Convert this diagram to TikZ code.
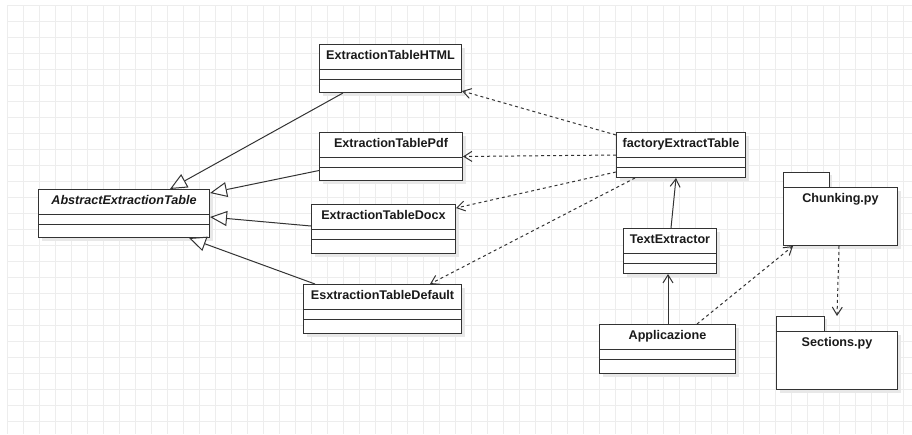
\documentclass[tikz,border=0pt]{standalone}
\usepackage{fontspec}
\setmainfont{Liberation Sans}
\usetikzlibrary{arrows.meta,shadows}

\definecolor{umlline}{HTML}{333333}
\definecolor{umltext}{HTML}{1A1A1A}
\definecolor{gridgray}{HTML}{EDEDED}
\definecolor{shadowgray}{HTML}{E8E8E8}

\tikzset{
  gridline/.style={draw=gridgray, line width=0.9pt},
  umlshadow/.style={drop shadow={shadow xshift=3pt, shadow yshift=-3pt, fill=shadowgray, opacity=1}},
  classbox/.style={draw=umlline, fill=white, line width=1pt, inner sep=0pt, umlshadow},
  classline/.style={draw=umlline, line width=1pt},
  classname/.style={text=umltext, font=\bfseries\fontsize{12.6}{14}\selectfont, inner sep=0pt, text height=9pt, text depth=2.5pt},
  inherit/.style={draw=umlline, line width=1pt, -{Triangle[fill=white, length=17pt, width=15pt]}},
  uses/.style={draw=umlline, line width=1pt, dash pattern=on 3pt off 3pt, -{Straight Barb[length=8pt, width=10pt]}},
  assoc/.style={draw=umlline, line width=1pt, -{Straight Barb[length=8pt, width=10pt]}}
}

% name, left, top, width, height, label
\newcommand{\umlclass}[6]{%
  \node[classbox, minimum width=#4pt, minimum height=#5pt, anchor=north west] (#1) at (#2,#3) {};
  \node[classname] (#1-name) at ([yshift=-12.5pt]#1.north) {#6};
  \draw[classline] ([yshift=-25pt]#1.north west) -- ([yshift=-25pt]#1.north east);
  \draw[classline] ([yshift=-35.5pt]#1.north west) -- ([yshift=-35.5pt]#1.north east);
}
% name, left, top, width, height, tab width, label
\newcommand{\umlpackage}[7]{%
  \draw[classbox] (#2,{#3-15}) rectangle ({#2+#6},#3);
  \node[classbox, minimum width=#4pt, minimum height=#5pt, anchor=north west] (#1) at (#2,#3) {};
  \node[classname] (#1-name) at ([yshift=-12pt]#1.north) {#7};
}

\begin{document}
\begin{tikzpicture}[x=1pt, y=-1pt]
  \useasboundingbox (0,0) rectangle (912,434);

  % grid
  \foreach \gx in {0,...,56} \draw[gridline] ({7.3+16*\gx},5) -- ({7.3+16*\gx},434);
  \foreach \gy in {0,...,26} \draw[gridline] (7.3,{5+16*\gy}) -- (912,{5+16*\gy});

  % classes
  \umlclass{abs}{38}{189}{171}{48}{\itshape AbstractExtractionTable}
  \umlclass{html}{319}{44}{142}{48}{ExtractionTableHTML}
  \umlclass{pdf}{319}{132}{143}{48}{ExtractionTablePdf}
  \umlclass{docx}{311}{204}{144}{49}{ExtractionTableDocx}
  \umlclass{tdefault}{303}{284}{158}{49}{EsxtractionTableDefault}
  \umlclass{factory}{616}{132}{129}{45}{factoryExtractTable}
  \umlclass{textx}{623}{228}{93}{45}{TextExtractor}
  \umlclass{app}{599}{324}{136}{49}{Applicazione}

  % packages
  \umlpackage{chunk}{783}{187}{114}{58}{46}{Chunking.py}
  \umlpackage{sect}{776}{331}{121}{58}{48}{Sections.py}

  % generalisations
  \draw[inherit] ([xshift=24pt]html.south west) -- ([xshift=132pt]abs.north west);
  \draw[inherit] ([yshift=-14pt]pdf.west) -- ([yshift=-4pt]abs.north east);
  \draw[inherit] ([yshift=3pt]docx.west) -- ([yshift=-28pt]abs.north east);
  \draw[inherit] ([xshift=12pt]tdefault.north west) -- ([xshift=151pt]abs.south west);

  % dependencies
  \draw[uses] ([yshift=-3pt]factory.north west) -- ([yshift=2pt]html.south east);
  \draw[uses] (factory.west) -- (pdf.east);
  \draw[uses] ([yshift=6pt]factory.south west) -- ([yshift=-4pt]docx.north east);
  \draw[uses] ([xshift=19pt]factory.south west) -- ([xshift=127pt]tdefault.north west);
  \draw[uses] ([xshift=98pt]app.north west) -- ([xshift=10pt]chunk.south west);
  \draw[uses] ([xshift=56pt]chunk.south west) -- ([xshift=61pt,yshift=15pt]sect.north west);

  % associations
  \draw[assoc] ([xshift=48pt]textx.north west) -- ([xshift=60pt]factory.south west);
  \draw[assoc] ([xshift=69pt]app.north west) -- ([xshift=45pt]textx.south west);
\end{tikzpicture}
\end{document}
